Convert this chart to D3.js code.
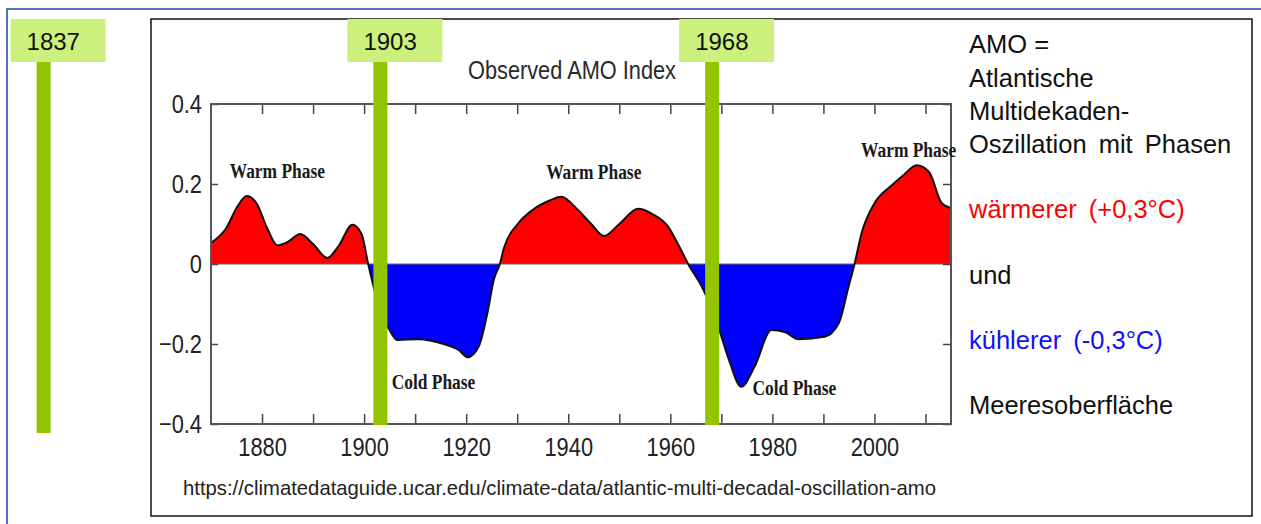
<!DOCTYPE html>
<html>
<head>
<meta charset="utf-8">
<script src="https://cdn.jsdelivr.net/npm/d3@7"></script>
<style>
  body { margin: 0; background: #fff; }
  svg { display: block; }
  .narrow { font-family: "Liberation Sans Narrow", "Arial Narrow", "Liberation Sans", sans-serif; }
</style>
</head>
<body>
<div id="chart"></div>
<script>
// AMO index (smoothed curve)
const years = [1870, 1873, 1875, 1877, 1879, 1881, 1883, 1885, 1887.5, 1890, 1892.8, 1895, 1897.7, 1899.5, 1900.8, 1902.2,
  1904, 1905.2, 1906.5, 1910.5, 1915.6, 1918.5, 1920.3, 1922.5, 1924.2, 1925.4, 1926.6, 1927.4, 1930.1, 1933, 1936.6,
  1938.6, 1941.9, 1944.5, 1947, 1950, 1953.7, 1956.5, 1959.6, 1961.5, 1963.5, 1966.5, 1969.4, 1971.5, 1973.9, 1976.5,
  1979.8, 1982.4, 1985.1, 1990.2, 1993, 1994.9, 1996.1, 1997.5, 2000, 2003.4, 2005.5, 2008.3, 2010.7, 2013.2, 2015];
const amo = [0.053, 0.09, 0.14, 0.17, 0.15, 0.09, 0.047, 0.055, 0.075, 0.05, 0.015, 0.045, 0.098, 0.075, 0.0, -0.073,
  -0.14, -0.17, -0.19, -0.188, -0.2, -0.215, -0.233, -0.205, -0.12, -0.04, 0.0, 0.04, 0.10, 0.135, 0.16,
  0.168, 0.135, 0.1, 0.07, 0.1, 0.138, 0.125, 0.093, 0.05, 0.0, -0.065, -0.157, -0.24, -0.307, -0.257,
  -0.165, -0.17, -0.188, -0.182, -0.148, -0.058, 0.0, 0.078, 0.152, 0.197, 0.22, 0.247, 0.23, 0.152, 0.14];

const yTicks = [-0.4, -0.2, 0, 0.2, 0.4];
const xTicks = [1880, 1890, 1900, 1910, 1920, 1930, 1940, 1950, 1960, 1970, 1980, 1990, 2000, 2010];
const markerYears = [1837, 1903, 1968];
const phaseLabels = [
  { text: "Warm Phase", year: 1883, value: 0.215 },
  { text: "Warm Phase", year: 1945, value: 0.212 },
  { text: "Warm Phase", year: 2006.7, value: 0.267 },
  { text: "Cold Phase", year: 1913.6, value: -0.312 },
  { text: "Cold Phase", year: 1984.3, value: -0.327 }
];
const sideLines = [
  { text: "AMO =", color: "#111", gap: 0 },
  { text: "Atlantische", color: "#111", gap: 0 },
  { text: "Multidekaden-", color: "#111", gap: 0 },
  { text: "Oszillation mit Phasen", color: "#111", gap: 5 },
  { text: "wärmerer (+0,3°C)", color: "#ff0000", gap: 5 },
  { text: "und", color: "#111", gap: 0 },
  { text: "kühlerer (-0,3°C)", color: "#1010ff", gap: 5 },
  { text: "Meeresoberfläche", color: "#111", gap: 0 }
];
const sideBaselines = [53, 87, 120, 153, 218, 284, 349, 414];

const width = 1261, height = 524;
const plot = { left: 211, right: 951, top: 104, bottom: 424 };

const svg = d3.select("#chart").append("svg")
  .attr("width", width)
  .attr("height", height);

const data = years.map((y, i) => ({ year: y, v: amo[i] }));

const x = d3.scaleLinear().domain([1870, 2015]).range([plot.left, plot.right]);
const y = d3.scaleLinear().domain([-0.4, 0.4]).range([plot.bottom, plot.top]);

// squeeze text horizontally (no narrow font installed)
function condense(sel, k) {
  sel.each(function () {
    const w = this.getComputedTextLength();
    if (w > 0) d3.select(this).attr("textLength", w * k).attr("lengthAdjust", "spacingAndGlyphs");
  });
}

// outer slide frame
svg.append("path")
  .attr("d", `M7,${height} V9 H${width}`)
  .attr("fill", "none")
  .attr("stroke", "#4a74c6")
  .attr("stroke-width", 2);

// image box
svg.append("rect")
  .attr("x", 151).attr("y", 19)
  .attr("width", 1101).attr("height", 497)
  .attr("fill", "#fff")
  .attr("stroke", "#111")
  .attr("stroke-width", 1.5);

// title
svg.append("text")
  .attr("class", "narrow")
  .attr("x", 572).attr("y", 79)
  .attr("text-anchor", "middle")
  .attr("font-size", 25)
  .attr("fill", "#2a2a2a")
  .text("Observed AMO Index")
  .call(condense, 0.87);

// clip paths for warm / cold fill
const defs = svg.append("defs");
defs.append("clipPath").attr("id", "above")
  .append("rect")
  .attr("x", plot.left).attr("y", plot.top)
  .attr("width", plot.right - plot.left).attr("height", y(0) - plot.top);
defs.append("clipPath").attr("id", "below")
  .append("rect")
  .attr("x", plot.left).attr("y", y(0))
  .attr("width", plot.right - plot.left).attr("height", plot.bottom - y(0));

const area = d3.area()
  .x(d => x(d.year))
  .y0(y(0))
  .y1(d => y(d.v))
  .curve(d3.curveMonotoneX);

const line = d3.line()
  .x(d => x(d.year))
  .y(d => y(d.v))
  .curve(d3.curveMonotoneX);

svg.append("path").datum(data)
  .attr("d", area)
  .attr("fill", "#ff0000")
  .attr("clip-path", "url(#above)");

svg.append("path").datum(data)
  .attr("d", area)
  .attr("fill", "#0000ff")
  .attr("clip-path", "url(#below)");

svg.append("line")
  .attr("x1", plot.left).attr("x2", plot.right)
  .attr("y1", y(0)).attr("y2", y(0))
  .attr("stroke", "#666")
  .attr("stroke-width", 1.2);

svg.append("path").datum(data)
  .attr("d", line)
  .attr("fill", "none")
  .attr("stroke", "#111")
  .attr("stroke-width", 2);

// axes (ticks pointing inward)
const axisFont = g => g.selectAll("text")
  .attr("class", "narrow")
  .attr("font-size", 26)
  .attr("fill", "#222")
  .call(condense, 0.84);

svg.append("g")
  .attr("transform", `translate(0,${plot.bottom})`)
  .call(d3.axisBottom(x).tickValues(xTicks).tickSize(-10).tickPadding(14)
    .tickFormat(d => d % 20 === 0 ? d : ""))
  .call(g => g.select(".domain").remove())
  .call(g => g.selectAll(".tick line").attr("stroke", "#444").attr("stroke-width", 1.5))
  .call(axisFont);

svg.append("g")
  .attr("transform", `translate(0,${plot.top})`)
  .call(d3.axisTop(x).tickValues(xTicks).tickSize(-10).tickFormat(""))
  .call(g => g.select(".domain").remove())
  .call(g => g.selectAll(".tick line").attr("stroke", "#444").attr("stroke-width", 1.5));

svg.append("g")
  .attr("transform", `translate(${plot.left},0)`)
  .call(d3.axisLeft(y).tickValues(yTicks).tickSize(-7).tickPadding(9)
    .tickFormat(d => d === 0 ? "0" : d3.format(".1f")(d)))
  .call(g => g.select(".domain").remove())
  .call(g => g.selectAll(".tick line").attr("stroke", "#444").attr("stroke-width", 1.5))
  .call(axisFont);

svg.append("g")
  .attr("transform", `translate(${plot.right},0)`)
  .call(d3.axisRight(y).tickValues(yTicks).tickSize(-8).tickFormat(""))
  .call(g => g.select(".domain").remove())
  .call(g => g.selectAll(".tick line").attr("stroke", "#444").attr("stroke-width", 1.5));

svg.append("rect")
  .attr("x", plot.left).attr("y", plot.top)
  .attr("width", plot.right - plot.left).attr("height", plot.bottom - plot.top)
  .attr("fill", "none")
  .attr("stroke", "#555")
  .attr("stroke-width", 2);

// phase labels
svg.append("g").selectAll("text")
  .data(phaseLabels)
  .join("text")
  .attr("x", d => x(d.year))
  .attr("y", d => y(d.value))
  .attr("text-anchor", "middle")
  .attr("font-family", "'Liberation Serif', 'Times New Roman', serif")
  .attr("font-weight", "bold")
  .attr("font-size", 20)
  .attr("fill", "#1a1a1a")
  .text(d => d.text)
  .call(condense, 0.87);

// source line
svg.append("text")
  .attr("x", 183).attr("y", 495)
  .attr("font-family", "'Liberation Sans', Arial, sans-serif")
  .attr("font-size", 20.3)
  .attr("fill", "#222")
  .text("https://climatedataguide.ucar.edu/climate-data/atlantic-multi-decadal-oscillation-amo");

// year markers
const markers = svg.append("g").selectAll("g")
  .data(markerYears)
  .join("g");

markers.append("rect")
  .attr("x", d => x(d) - 6)
  .attr("y", 62)
  .attr("width", 14)
  .attr("height", d => (d < 1870 ? 433 : 425) - 62)
  .attr("fill", "#92c400");

markers.append("rect")
  .attr("x", d => x(d) - 32)
  .attr("y", 19)
  .attr("width", 95)
  .attr("height", 43)
  .attr("fill", "#ccf07c");

markers.append("text")
  .attr("x", d => x(d) - 16)
  .attr("y", 50)
  .attr("font-family", "'Liberation Sans', Arial, sans-serif")
  .attr("font-size", 24)
  .attr("fill", "#111")
  .text(d => d);

// explanation on the right
svg.append("g").selectAll("text")
  .data(sideLines)
  .join("text")
  .attr("x", 969)
  .attr("y", (d, i) => sideBaselines[i])
  .attr("font-family", "'Liberation Sans', Arial, sans-serif")
  .attr("font-size", 25.5)
  .attr("word-spacing", d => d.gap)
  .attr("fill", d => d.color)
  .text(d => d.text);
</script>
</body>
</html>
